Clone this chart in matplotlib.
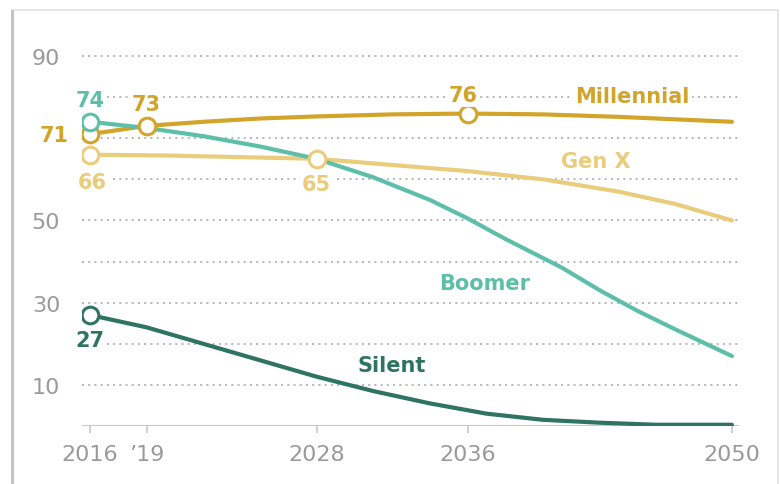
import matplotlib.pyplot as plt
from matplotlib.patches import Rectangle

# projected adult population by generation (millions)
mill_years = [2016, 2019, 2022, 2025, 2028, 2032, 2036, 2040, 2044, 2047, 2050]
mill_vals = [71, 73, 74, 74.8, 75.3, 75.8, 76, 75.8, 75.2, 74.6, 74.0]

genx_years = [2016, 2020, 2024, 2028, 2032, 2036, 2040, 2044, 2047, 2050]
genx_vals = [66, 65.8, 65.4, 65, 63.5, 62, 60, 57, 54, 50]

boom_years = [2016, 2019, 2022, 2025, 2028, 2031, 2034, 2036, 2038, 2041, 2043, 2045, 2047, 2050]
boom_vals = [74, 72.5, 70.5, 68, 65, 60.5, 55, 50.5, 45.5, 38.5, 33, 28, 23.5, 17]

silent_years = [2016, 2019, 2022, 2025, 2028, 2031, 2034, 2037, 2040, 2043, 2046, 2050]
silent_vals = [27, 24, 20, 16, 12, 8.5, 5.5, 3, 1.5, 0.8, 0.3, 0.3]

xticks = [2016, 2019, 2028, 2036, 2050]
xtick_labels = ["2016", "\u201919", "2028", "2036", "2050"]
yticks = [10, 30, 50, 90]

c_mill = "#D2A52A"
c_genx = "#E9CD7C"
c_boom = "#5DBFAA"
c_silent = "#2F7462"
grey = "#9a9a9a"

fig = plt.figure(figsize=(7.8, 4.85), dpi=100)
ax = fig.add_axes([0.1056, 0.1196, 0.8413, 0.7798])

for g in range(10, 100, 10):
    ax.axhline(g, color="#b5b5b5", lw=1.4, ls=(0, (1, 2.2)), zorder=1)
ax.axhline(0, color="#c8c8c8", lw=1.5, zorder=1)

series = [
    (genx_years, genx_vals, c_genx, [0, 3]),
    (mill_years, mill_vals, c_mill, [0, 1, 6]),
    (boom_years, boom_vals, c_boom, [0]),
    (silent_years, silent_vals, c_silent, [0]),
]
for xs, ys, col, marks in series:
    ax.plot(xs, ys, color=col, lw=3, solid_capstyle="round", zorder=3)
for xs, ys, col, marks in series:
    ax.plot([xs[i] for i in marks], [ys[i] for i in marks], ls="none",
            marker="o", ms=12, mfc="white", mec=col, mew=2.2, zorder=5)

bbox = dict(facecolor="white", edgecolor="none", pad=1.5)


def label(txt, x, y, dx, dy, col):
    ax.annotate(txt, (x, y), xytext=(dx * 0.72, dy * 0.72), textcoords="offset points",
                ha="center", va="center", fontsize=15, fontweight="bold",
                color=col, bbox=bbox, zorder=6)


label("74", 2016, boom_vals[0], 0, 22, c_boom)
label("73", 2019, mill_vals[1], 0, 22, c_mill)
label("71", 2016, mill_vals[0], -36, -1, c_mill)
label("66", 2016, genx_vals[0], 2, -27, c_genx)
label("65", 2028, genx_vals[3], 0, -25, c_genx)
label("76", 2036, mill_vals[6], -4, 19, c_mill)
label("27", 2016, silent_vals[0], 0, -25, c_silent)

ax.text(2041.7, 80.3, "Millennial", ha="left", va="center", fontsize=15,
        fontweight="bold", color=c_mill, bbox=bbox, zorder=6)
ax.text(2042.8, 64.4, "Gen X", ha="center", va="center", fontsize=15,
        fontweight="bold", color=c_genx, zorder=6)
ax.text(2036.9, 34.8, "Boomer", ha="center", va="center", fontsize=15,
        fontweight="bold", color=c_boom, zorder=6)
ax.text(2032.0, 14.9, "Silent", ha="center", va="center", fontsize=15,
        fontweight="bold", color=c_silent, zorder=6)

ax.set_xlim(2015.6, 2050.35)
ax.set_ylim(0, 92)
ax.set_xticks(xticks)
ax.set_xticklabels(xtick_labels)
ax.set_yticks(yticks)
ax.tick_params(axis="x", length=5, width=1.2, color="#c8c8c8", pad=8,
               labelsize=16, labelcolor=grey)
ax.tick_params(axis="y", length=0, pad=16, labelsize=16, labelcolor=grey)
for s in ax.spines.values():
    s.set_visible(False)

# card border around the chart
fig.patches.append(Rectangle((12 / 780, -0.01), 766 / 780, (474 / 485) + 0.01,
                             transform=fig.transFigure, fill=False,
                             edgecolor="#e2e2e2", lw=1.2))
fig.patches.append(Rectangle((11 / 780, -0.01), 2.5 / 780, (474 / 485) + 0.01,
                             transform=fig.transFigure, facecolor="#c4c4c4",
                             edgecolor="none"))

fig.savefig("out.png", dpi=100)
